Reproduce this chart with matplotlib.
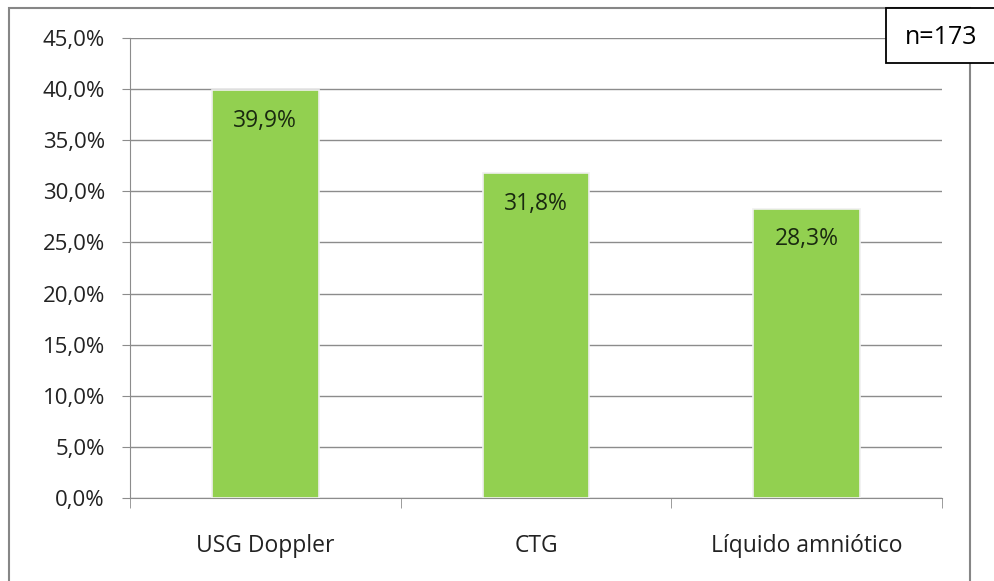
import matplotlib.pyplot as plt
from matplotlib.patches import Rectangle

categories = ['USG Doppler', 'CTG', 'Líquido amniótico']
values = [39.9, 31.8, 28.3]
value_labels = ['39,9%', '31,8%', '28,3%']
yticks = [0, 5, 10, 15, 20, 25, 30, 35, 40, 45]
ytick_labels = ['0,0%', '5,0%', '10,0%', '15,0%', '20,0%', '25,0%', '30,0%', '35,0%', '40,0%', '45,0%']
n_label = 'n=173'

plt.rcParams['font.family'] = ['Open Sans', 'DejaVu Sans']

W, H = 995, 581
fig = plt.figure(figsize=(W / 100, H / 100), dpi=100)
ax = fig.add_axes([130 / W, 1 - 498 / H, (942 - 130) / W, (498 - 38) / H])

# outer frame of the chart
fig.patches.append(Rectangle((9 / W, -0.05), (970 - 9) / W, 1 - 8 / H + 0.05,
                             transform=fig.transFigure, fill=False,
                             edgecolor='#868686', linewidth=1.5))

x = range(len(categories))
ax.bar(x, values, width=0.395, color='#92D050', edgecolor='#f0f0f0',
       linewidth=1.2, zorder=3)
for i, v in enumerate(values):
    ax.text(i, v - 3.0, value_labels[i], ha='center', va='center',
            fontsize=16.5, color='#1a2a10', zorder=4)

ax.set_xlim(-0.5, len(categories) - 0.5)
ax.set_ylim(0, 45)
ax.set_yticks(yticks)
ax.set_yticklabels(ytick_labels, fontsize=16, color='#222222')
ax.yaxis.grid(True, color='#8c8c8c', linewidth=1.0, zorder=0)
ax.set_axisbelow(True)

ax.set_xticks(list(x))
ax.set_xticklabels(categories, fontsize=16.5, color='#222222')
ax.tick_params(axis='x', length=0, pad=26)
ax.set_xticks([-0.5, 0.5, 1.5, 2.5], minor=True)
ax.tick_params(axis='x', which='minor', length=7, color='#8c8c8c', direction='out')
ax.tick_params(axis='y', length=6, color='#8c8c8c', direction='out', pad=12)

for s in ['top', 'right']:
    ax.spines[s].set_visible(False)
ax.spines['left'].set_color('#8c8c8c')
ax.spines['bottom'].set_color('#8c8c8c')

# n box at top right
fig.patches.append(Rectangle((886 / W, 1 - 63 / H), 120 / W, 55 / H,
                             transform=fig.transFigure, facecolor='white',
                             edgecolor='black', linewidth=1.3, zorder=5))
fig.text(941 / W, 1 - 37 / H, n_label, ha='center', va='center', fontsize=18,
         color='black', zorder=6)

fig.savefig('out.png', dpi=100)
